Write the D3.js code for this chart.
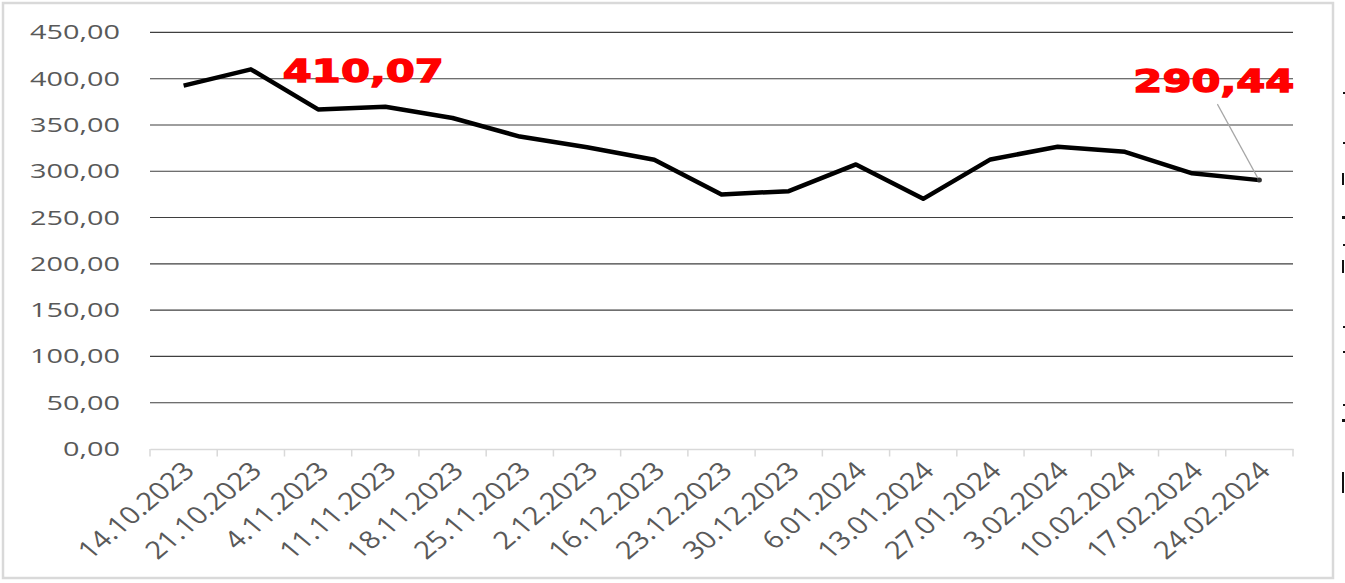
<!DOCTYPE html>
<html><head><meta charset="utf-8">
<script src="https://cdn.jsdelivr.net/npm/d3@7"></script>
<style>body{margin:0;background:#fff}svg{display:block}</style>
</head><body><svg id="c" width="1345" height="583"></svg>
<script>
const categories = ["14.10.2023","21.10.2023","4.11.2023","11.11.2023","18.11.2023","25.11.2023","2.12.2023","16.12.2023","23.12.2023","30.12.2023","6.01.2024","13.01.2024","27.01.2024","3.02.2024","10.02.2024","17.02.2024","24.02.2024"];
const values = [392.5,410.07,366.8,369.6,357.5,337.5,326.0,312.5,275.0,278.5,307.4,270.2,312.8,326.4,321.0,297.8,290.44];
const yTicks = [0,50,100,150,200,250,300,350,400,450];
const annotated = [1,16];

const svg = d3.select("#c");
const locale = d3.formatLocale({decimal:",",thousands:" ",grouping:[3],currency:["",""]});
const fmt = locale.format(".2f");
const SX = 1.48, SXL = 1.2;

// border
svg.append("rect").attr("x",3).attr("y",3).attr("width",1330).attr("height",575)
  .attr("fill","#fff").attr("stroke","#d9d9d9").attr("stroke-width",2.5);

const x = d3.scaleBand().domain(categories).range([150,1293]).padding(0);
const y = d3.scaleLinear().domain([0,450]).range([449,32.4]);

// gridlines
svg.append("g").selectAll("line").data(yTicks.filter(d=>d>0)).join("line")
  .attr("x1",150).attr("x2",1293).attr("y1",d=>y(d)).attr("y2",d=>y(d))
  .attr("stroke","#3f3f3f").attr("stroke-width",1.1);

// y labels
svg.append("g").selectAll("text").data(yTicks).join("text")
  .attr("transform",d=>`translate(120,${y(d)}) scale(${SX},1)`)
  .attr("dy","0.36em").attr("text-anchor","end")
  .attr("font-family","'Open Sans', sans-serif").attr("font-size",19.5).attr("fill","#595959")
  .text(d=>fmt(d));

// x axis
const xAxis = d3.axisBottom(x).tickSize(0).tickFormat("");
const gx = svg.append("g").attr("transform",`translate(0,${y(0)})`).call(xAxis);
gx.select(".domain").attr("stroke","#d9d9d9").attr("stroke-width",1.5);
const bounds = categories.map(c=>x(c)).concat([x.range()[1]]);
gx.selectAll(".bt").data(bounds).join("line").attr("class","bt")
  .attr("x1",d=>d).attr("x2",d=>d).attr("y1",0).attr("y2",7.5)
  .attr("stroke","#d9d9d9").attr("stroke-width",1.5);

svg.append("g").selectAll("text").data(categories).join("text")
  .attr("transform",d=>`translate(${x(d)+x.bandwidth()/2+5},${y(0)+17}) scale(${SXL},1) rotate(-45)`)
  .attr("dy","0.36em").attr("text-anchor","end")
  .attr("font-family","'Open Sans', sans-serif").attr("font-size",24.5).attr("fill","#595959")
  .text(d=>d);

// line
const pts = categories.map((c,i)=>[x(c)+x.bandwidth()/2, y(values[i])]);
svg.append("path").datum(pts).attr("d",d3.line())
  .attr("fill","none").attr("stroke","#000").attr("stroke-width",4.5)
  .attr("stroke-linejoin","round").attr("stroke-linecap","butt");

// leader line for last annotation
const last = pts[16];
svg.append("line").attr("x1",last[0]-42).attr("y1",last[1]-76).attr("x2",last[0]-1).attr("y2",last[1]-1)
  .attr("stroke","#a6a6a6").attr("stroke-width",1.2);
svg.append("circle").attr("cx",last[0]).attr("cy",last[1]).attr("r",2.5).attr("fill","#333");

// annotations
const annPos = {1:[32,13], 16:[-126,-88]};
svg.append("g").selectAll("text").data(annotated).join("text")
  .attr("x",i=>pts[i][0]+annPos[i][0]).attr("y",i=>pts[i][1]+annPos[i][1])
  .attr("font-family","'DejaVu Sans', sans-serif").attr("font-weight","bold").attr("font-size",32)
  .attr("fill","#ff0000").attr("stroke","#ff0000").attr("stroke-width",1.3)
  .attr("textLength",161).attr("lengthAdjust","spacingAndGlyphs")
  .text(i=>fmt(values[i]));

// clipped fragments at the right edge
const frags = [[1343,92,2,2],[1343,142,2,2],[1342,173,2,12],[1342,216,3,3],[1343,244,2,2],[1342,260,2,13],[1343,326,2,2],[1343,351,2,2],[1343,404,2,2],[1342,419,3,3],[1342,472,2,21]];
svg.append("g").selectAll("rect").data(frags).join("rect")
  .attr("x",d=>d[0]).attr("y",d=>d[1]).attr("width",d=>d[2]).attr("height",d=>d[3]).attr("fill","#111");
</script></body></html>
